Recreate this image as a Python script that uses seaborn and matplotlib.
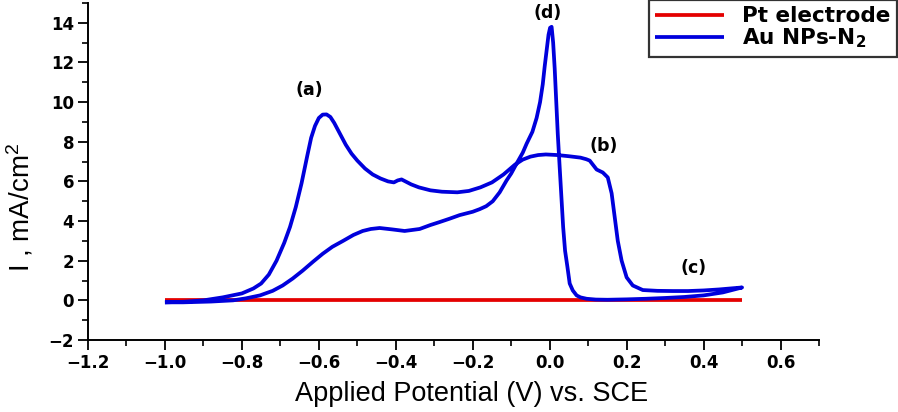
import matplotlib
matplotlib.use("Agg")
import matplotlib.pyplot as plt
from matplotlib.ticker import MultipleLocator
import seaborn as sns
import pandas as pd

# ---- data ----
pt_v = [-1.0, 0.5]
pt_i = [0.0, 0.0]

forward_v = [-1.00, -0.95, -0.90, -0.85, -0.80, -0.77, -0.75, -0.73, -0.71, -0.69,
             -0.675, -0.66, -0.645, -0.63, -0.62, -0.61, -0.60, -0.59, -0.58, -0.57,
             -0.56, -0.545, -0.53, -0.515, -0.50, -0.48, -0.46, -0.44, -0.42, -0.405,
             -0.395, -0.385, -0.375, -0.36, -0.34, -0.31, -0.28, -0.24, -0.21, -0.18,
             -0.15, -0.12, -0.09, -0.07, -0.05, -0.03, -0.01, 0.02, 0.05, 0.08,
             0.095, 0.104, 0.122, 0.138, 0.151, 0.161, 0.169, 0.177, 0.187, 0.20,
             0.216, 0.242, 0.28, 0.32, 0.36, 0.40, 0.44, 0.47, 0.50]
forward_i = [-0.10, -0.07, 0.00, 0.15, 0.35, 0.60, 0.85, 1.30, 2.00, 2.90,
             3.70, 4.70, 5.90, 7.30, 8.20, 8.80, 9.20, 9.37, 9.38, 9.25,
             8.95, 8.40, 7.85, 7.40, 7.05, 6.65, 6.35, 6.15, 6.00, 5.95,
             6.05, 6.10, 6.00, 5.85, 5.70, 5.55, 5.48, 5.45, 5.52, 5.70,
             5.95, 6.35, 6.85, 7.10, 7.25, 7.33, 7.36, 7.33, 7.27, 7.20,
             7.12, 7.05, 6.60, 6.45, 6.20, 5.40, 4.20, 3.00, 2.00, 1.16,
             0.75, 0.52, 0.48, 0.47, 0.47, 0.50, 0.55, 0.60, 0.65]

reverse_v = [0.50, 0.45, 0.40, 0.35, 0.30, 0.25, 0.20, 0.15, 0.12, 0.096,
             0.08, 0.07, 0.06, 0.052, 0.046, 0.04, 0.035, 0.031, 0.026, 0.021,
             0.017, 0.013, 0.009, 0.005, 0.001, -0.003, -0.008, -0.013, -0.018, -0.025,
             -0.034, -0.045, -0.06, -0.07, -0.086, -0.10, -0.112, -0.13, -0.148, -0.165,
             -0.182, -0.20, -0.234, -0.26, -0.286, -0.31, -0.338, -0.377, -0.41, -0.442,
             -0.465, -0.486, -0.51, -0.537, -0.565, -0.59, -0.615, -0.642, -0.668, -0.694,
             -0.72, -0.753, -0.79, -0.823, -0.88, -0.953, -1.00]
reverse_i = [0.65, 0.40, 0.25, 0.17, 0.12, 0.08, 0.05, 0.03, 0.04, 0.08,
             0.15, 0.25, 0.50, 0.85, 1.70, 2.50, 3.70, 5.00, 6.70, 8.40,
             10.00, 11.70, 13.00, 13.80, 13.75, 13.40, 12.60, 11.80, 10.90, 10.00,
             9.20, 8.50, 7.90, 7.45, 6.90, 6.40, 6.05, 5.45, 5.00, 4.75,
             4.60, 4.47, 4.30, 4.12, 3.95, 3.80, 3.60, 3.50, 3.58, 3.65,
             3.60, 3.50, 3.30, 3.00, 2.70, 2.35, 1.95, 1.50, 1.10, 0.75,
             0.48, 0.25, 0.10, 0.00, -0.06, -0.10, -0.10]

series_labels = ["Pt electrode", "Au NPs-N$_2$"]
peak_labels = ["(a)", "(b)", "(c)", "(d)"]
peak_pos_v = [-0.625, 0.14, 0.375, -0.005]
peak_pos_i = [10.6, 7.8, 1.65, 14.5]

x_ticks = [-1.2, -1.0, -0.8, -0.6, -0.4, -0.2, 0.0, 0.2, 0.4, 0.6]
y_ticks = [-2, 0, 2, 4, 6, 8, 10, 12, 14]

# ---- styling ----
sns.set_theme(style="ticks")
plt.rcParams["font.family"] = ["DejaVu Sans"]
plt.rcParams["mathtext.default"] = "regular"
plt.rcParams["text.color"] = "black"
plt.rcParams["legend.labelcolor"] = "black"

fig = plt.figure(figsize=(8.98, 4.12), dpi=100)
ax = fig.add_axes([88 / 898, 1 - 340 / 412, (819 - 88) / 898, (340 - 3) / 412])

pt_df = pd.DataFrame({"V": pt_v, "I": pt_i})
au_df = pd.DataFrame({"V": forward_v + reverse_v, "I": forward_i + reverse_i})

line_kw = dict(lw=2.7, sort=False, estimator=None,
               solid_joinstyle="round", solid_capstyle="butt")
sns.lineplot(data=pt_df, x="V", y="I", ax=ax, color="#e40000",
             label=series_labels[0], **line_kw)
sns.lineplot(data=au_df, x="V", y="I", ax=ax, color="#0000dc",
             label=series_labels[1], **line_kw)

ax.set_xlim(-1.2, 0.7)
ax.set_ylim(-2, 15)
ax.set_xticks(x_ticks)
ax.set_xticklabels([f"{t:.1f}".replace("-", "\u2212") for t in x_ticks])
ax.set_yticks(y_ticks)
ax.set_yticklabels([str(t).replace("-", "\u2212") for t in y_ticks])
ax.xaxis.set_minor_locator(MultipleLocator(0.1))
ax.yaxis.set_minor_locator(MultipleLocator(1))

for s in ["top", "right"]:
    ax.spines[s].set_visible(False)
for s in ["left", "bottom"]:
    ax.spines[s].set_color("black")
    ax.spines[s].set_linewidth(1.4)

ax.tick_params(which="major", direction="out", length=7, width=1.3, color="black",
               labelsize=12, labelcolor="black", pad=3)
ax.tick_params(which="minor", direction="out", length=4, width=1.2, color="black")
for lab in ax.get_xticklabels() + ax.get_yticklabels():
    lab.set_fontweight("bold")

ax.set_xlabel("Applied Potential (V) vs. SCE", family="Liberation Sans", fontsize=19.5,
              color="black")
ax.set_ylabel("I , mA/cm$^2$", family="Liberation Sans", fontsize=20, color="black")
ax.xaxis.set_label_coords((472 - 88) / 731, (340 - 394) / 337)
ax.yaxis.set_label_coords((20 - 88) / 731, (340 - 207) / 337)
ax.xaxis.label.set_va("center")
ax.yaxis.label.set_va("center")

for lab, v, i in zip(peak_labels, peak_pos_v, peak_pos_i):
    ax.text(v, i, lab, ha="center", va="center", fontsize=12.5, fontweight="bold",
            color="black")

leg = ax.legend(loc="upper right", bbox_to_anchor=(897 / 898, 1.0),
                bbox_transform=fig.transFigure, frameon=True, fancybox=False,
                edgecolor="black", prop={"weight": "bold", "size": 15.5},
                labelcolor="black",
                handlelength=3.2, handletextpad=0.85, borderpad=0.3,
                labelspacing=0.0, borderaxespad=0)
leg.get_frame().set_linewidth(1.6)
for line in leg.get_lines():
    line.set_linewidth(2.7)

fig.savefig("out.png", dpi=100)
